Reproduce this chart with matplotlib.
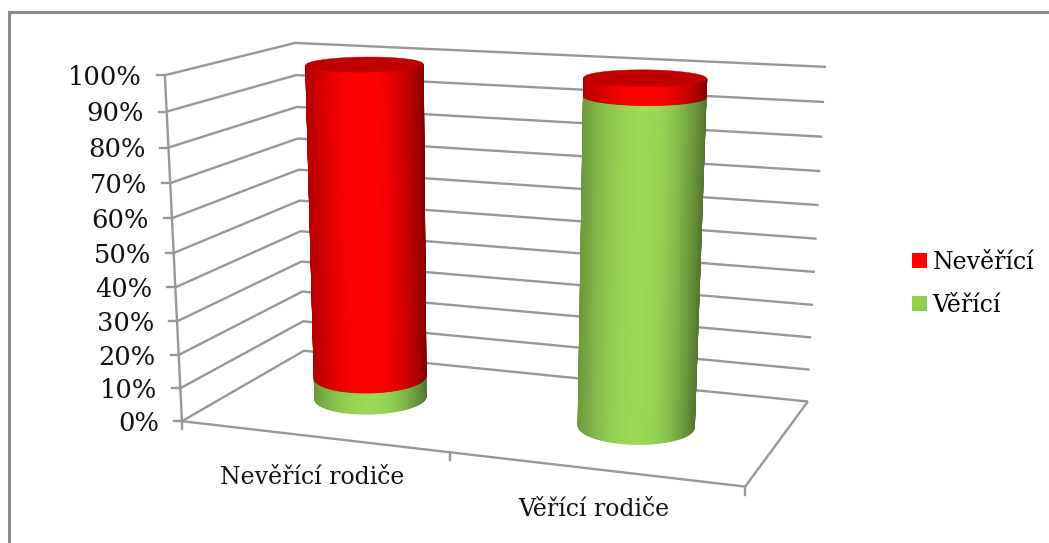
import numpy as np
import matplotlib
matplotlib.use("Agg")
import matplotlib.pyplot as plt
from matplotlib.colors import LinearSegmentedColormap
from matplotlib.patches import Patch, Polygon

categories = ["Nevěřící rodiče", "Věřící rodiče"]
series_names = ["Nevěřící", "Věřící"]
believers = [6.5, 95]
nonbelievers = [93.5, 5]
pct_ticks = list(range(0, 101, 10))

RED = np.array([255, 0, 0]) / 255
GREEN = np.array([155, 219, 87]) / 255
CAP = "#C00000"
GREY = "#979797"
SERIF = "DejaVu Serif"

# Camera of the 3D frame: world (category, percent, depth) -> image pixels
world = np.array([[0, 0, 0], [0, 100, 0], [0, 0, 1], [0, 100, 1],
                  [2, 0, 1], [2, 100, 1], [2, 0, 0]], float)
image = np.array([[182, 421], [165, 75], [304, 351], [295, 43],
                  [808, 401], [826, 67], [745, 487]], float)
A, b = [], []
for (u, p, d), (x, y) in zip(world, image):
    A.append([u, p, d, 1, 0, 0, 0, 0, -x * u, -x * p, -x * d]); b.append(x)
    A.append([0, 0, 0, 0, u, p, d, 1, -y * u, -y * p, -y * d]); b.append(y)
m = np.linalg.lstsq(np.array(A), np.array(b), rcond=None)[0]
M = np.append(m, 1).reshape(3, 4)


def project(u, p, d):
    u, p, d = np.broadcast_arrays(np.asarray(u, float), np.asarray(p, float), np.asarray(d, float))
    v = M @ np.stack([u, p, d, np.ones_like(u)])
    return v[0] / v[2], v[1] / v[2]


fig = plt.figure(figsize=(10.49, 5.43), dpi=100)
ax = fig.add_axes([0, 0, 1, 1])
ax.set_xlim(0, 1049)
ax.set_ylim(543, 0)
ax.axis("off")

# Outer frame
ax.plot([9, 9, 1049], [543, 12, 12], color="#8A8A8A", lw=2.2, solid_joinstyle="miter")


def seg(u, p, d):
    x, y = project(u, p, d)
    ax.plot(x, y, color=GREY, lw=1.7, solid_capstyle="butt")


# Walls, gridlines, ticks
for t in pct_ticks:
    seg([0, 0, 2], [t, t, t], [0, 1, 1])
    x, y = project(0, t, 0)
    ax.plot([x - 8, x], [y, y], color=GREY, lw=1.7)
    ax.text(x - 23, y + 2, f"{t}%", ha="right", va="center",
            family=SERIF, fontsize=18.5, color="#111111")
seg([0, 0], [0, 100], [0, 0])
seg([0, 2, 2], [0, 0, 0], [0, 0, 1])
for u in range(3):
    x, y = project(u, 0, 0)
    ax.plot([x, x], [y, y + 8], color=GREY, lw=1.7)

for i, name in enumerate(categories):
    x, y = project(i + 0.5, 0, 0)
    ax.text(x, y + 41, name, ha="center", va="center", family=SERIF, fontsize=17, color="#111111")

RU, RD = 0.2, 0.21
DC = 0.5
FRAC = 0.5 * (1 - np.cos(np.linspace(0, np.pi, 101)))


def ring(uc, p, thetas):
    return project(uc + RU * np.cos(thetas), p, DC + RD * np.sin(thetas))


def front_arc(uc, p):
    """Lower (visible) arc of a projected ring, from its left to its right extreme."""
    th = np.linspace(np.pi * 0.8, np.pi * 2.2, 1500)
    x, y = ring(uc, p, th)
    i0, i1 = np.argmin(x), np.argmax(x)
    xs = x[i0] + (x[i1] - x[i0]) * FRAC
    return xs, np.interp(xs, x[i0:i1 + 1], y[i0:i1 + 1])


def segment(uc, p0, p1, color):
    x0, y0 = front_arc(uc, p0)
    x1, y1 = front_arc(uc, p1)
    c = 2 * FRAC - 1
    shade = np.where(c < 0, 1 - 0.30 * c ** 2, 1 - 0.45 * c ** 2)
    cmap = LinearSegmentedColormap.from_list("s", [color * 0.55, color])
    ax.pcolormesh(np.vstack([x0, x1]), np.vstack([y0, y1]), np.vstack([shade, shade]),
                  cmap=cmap, vmin=0.55, vmax=1.0, shading="gouraud", zorder=3)


for i, (g, r) in enumerate(zip(believers, nonbelievers)):
    uc = i + 0.5
    segment(uc, 0, g, GREEN)
    segment(uc, g, g + r, RED)
    th = np.linspace(0, 2 * np.pi, 120)
    x, y = ring(uc, g + r, th)
    ax.add_patch(Polygon(np.column_stack([x, y]), closed=True, facecolor=CAP, edgecolor=CAP, lw=0.3, zorder=4))

handles = [Patch(facecolor="#FF0000"), Patch(facecolor="#92D050")]
ax.legend(handles, series_names, loc="upper left", bbox_to_anchor=(907 / 1049, 1 - 246 / 543),
          frameon=False, prop={"family": SERIF, "size": 17}, handlelength=0.65, handleheight=0.58,
          handletextpad=0.24, labelspacing=0.85, borderpad=0.2, borderaxespad=0)

fig.savefig("out.png", dpi=100)
